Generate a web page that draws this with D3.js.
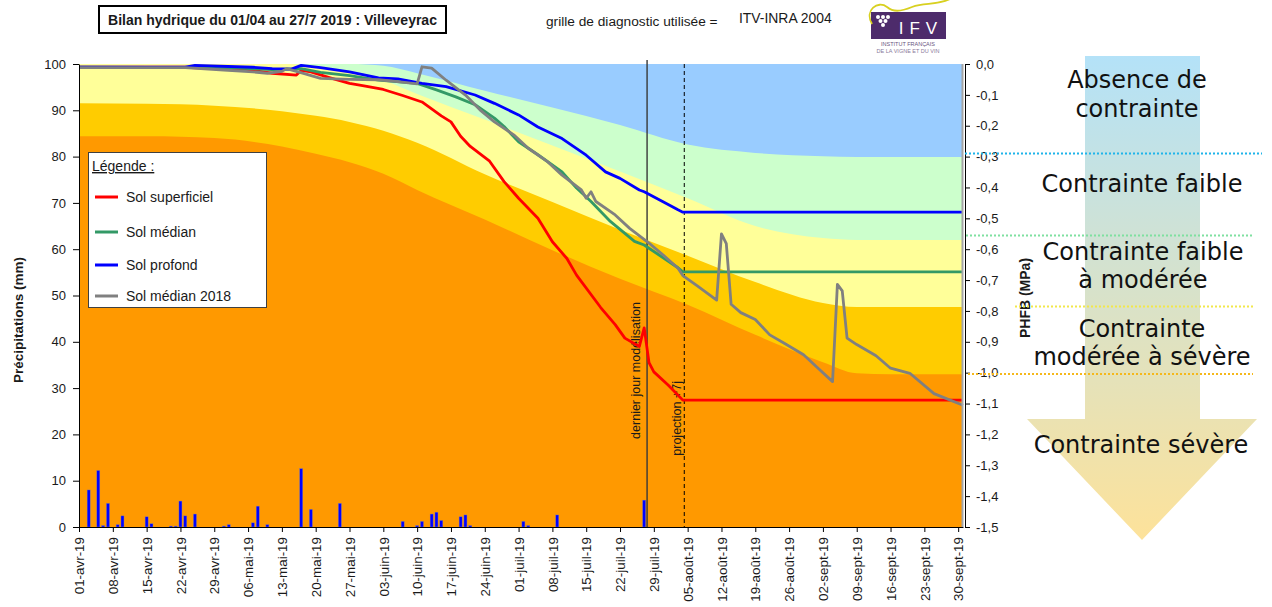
<!DOCTYPE html>
<html>
<head>
<meta charset="utf-8">
<script src="https://cdn.jsdelivr.net/npm/d3@7"></script>
<style>
  body { margin: 0; background: #fff; }
  text { font-family: "Liberation Sans", Arial, sans-serif; fill: #1a1a1a; }
</style>
</head>
<body>
<svg id="chart" width="1272" height="607"></svg>
<script>
// jours comptés depuis le 01/04/2019
var debut = new Date(2019, 3, 1);
var moisAbr = ['janv', 'févr', 'mars', 'avr', 'mai', 'juin', 'juil', 'août', 'sept', 'oct', 'nov', 'déc'];

// précipitations journalières (mm)
var pluieJours = [2, 4, 5, 6, 8, 9, 14, 15, 19, 20, 21, 22, 24, 30, 31, 36, 37, 39, 46, 48, 54, 67, 70, 71, 73, 74, 75, 79, 80, 81, 92, 93, 99, 117];
var pluieMm = [8.0, 12.2, 0.3, 5.1, 0.5, 2.4, 2.2, 0.7, 0.2, 0.2, 5.6, 2.4, 2.8, 0.2, 0.5, 0.9, 4.5, 0.5, 12.6, 3.8, 5.1, 1.2, 0.3, 1.2, 2.8, 3.2, 1.4, 2.2, 2.6, 0.3, 1.2, 0.3, 2.6, 5.8];

// limites des classes de contrainte (grille ITV-INRA 2004)
var joursGrille = [0, 14, 28, 42, 49, 56, 63, 70, 84, 98, 112, 126, 140, 154, 161, 168, 183];
var limiteBleu  = [100, 100, 100, 100, 100, 100, 99.6, 98.0, 94.2, 90.6, 86.8, 82.6, 80.8, 80.1, 79.9, 79.9, 79.9];
var limiteVert  = [100, 100, 100, 100, 99.6, 98.3, 96.5, 93.5, 88.0, 82.4, 76.8, 71.0, 65.0, 62.4, 62.0, 62.0, 62.0];
var limiteJaune = [91.5, 91.4, 91.0, 89.8, 88.8, 87.5, 85.6, 83.0, 76.2, 70.2, 64.2, 58.6, 52.9, 48.4, 47.5, 47.5, 47.5];
var limiteOr    = [84.4, 84.4, 84.0, 82.2, 80.6, 78.8, 76.3, 72.8, 66.4, 59.8, 53.6, 48.0, 41.5, 35.6, 33.2, 33.0, 33.0];

// bilans hydriques [jour, %]
var solSuperficiel = [[0, 99.3], [22, 99.3], [28, 99.0], [36, 98.6], [40, 98.0], [45, 97.6], [46, 98.6], [48, 98.3], [52, 97.0], [56, 95.8], [59, 95.3], [63, 94.5], [67, 93.2], [71, 91.8], [75, 88.8], [77, 87.5], [79, 84.4], [81, 82.2], [85, 79.0], [88, 74.6], [91, 71.0], [95, 66.7], [98, 61.6], [101, 58.0], [103, 54.4], [108, 47.4], [111, 43.7], [113, 40.8], [116, 39.0], [117, 43.0], [118, 35.5], [119, 33.5], [122, 30.6], [125, 27.4], [183, 27.4]];
var solMedian = [[0, 99.3], [30, 99.2], [40, 98.8], [46, 99.0], [50, 98.2], [56, 97.5], [62, 96.5], [70, 95.8], [74, 94.4], [78, 92.9], [82, 91.2], [86, 88.3], [88, 86.5], [91, 83.2], [95, 80.4], [100, 76.7], [103, 73.2], [106, 70.3], [110, 66.0], [115, 61.7], [117, 60.9], [124, 56.0], [125, 55.1], [183, 55.1]];
var solProfond = [[0, 99.3], [22, 99.3], [24, 99.7], [36, 99.3], [40, 99.0], [44, 98.9], [46, 99.7], [50, 99.2], [56, 98.3], [62, 97.0], [66, 96.8], [71, 95.8], [76, 95.1], [82, 93.3], [86, 91.5], [91, 89.0], [95, 86.4], [100, 83.9], [105, 80.3], [109, 76.7], [112, 75.3], [116, 72.8], [117, 72.4], [121, 70.2], [124, 68.5], [125, 68.0], [183, 68.0]];
var solMedian2018 = [[0, 99.2], [22, 99.2], [30, 98.7], [36, 98.3], [39, 98.0], [42, 98.4], [43, 99.0], [47, 97.8], [50, 96.9], [56, 96.7], [62, 96.6], [66, 96.2], [70, 95.7], [71, 99.4], [73, 99.1], [76, 96.5], [80, 93.3], [83, 90.1], [86, 87.5], [90, 84.7], [93, 81.8], [97, 78.9], [100, 76.0], [104, 72.8], [105, 71.0], [106, 72.4], [107, 70.3], [111, 67.4], [114, 64.5], [118, 61.3], [121, 58.7], [124, 55.9], [125, 54.3], [128, 52.1], [132, 49.0], [133, 63.3], [134, 61.2], [135, 48.1], [137, 46.3], [140, 44.8], [143, 41.5], [146, 39.7], [150, 37.2], [153, 34.3], [156, 31.4], [157, 52.4], [158, 51.0], [159, 40.8], [161, 39.4], [165, 37.0], [168, 34.3], [172, 33.2], [177, 28.8], [183, 26.3]];

var dernierJour = 117.6;   // dernier jour modélisation
var jourProjection = 125.3; // projection +7j

var series = [
  { nom: 'Sol superficiel', data: solSuperficiel, couleur: '#ff0000' },
  { nom: 'Sol médian', data: solMedian, couleur: '#339966' },
  { nom: 'Sol profond', data: solProfond, couleur: '#0000ff' },
  { nom: 'Sol médian 2018', data: solMedian2018, couleur: '#808080' }
];

var classes = [
  { lignes: ['Absence de', 'contrainte'], y: [88, 117], cx: 1137 },
  { lignes: ['Contrainte faible'], y: [192], cx: 1142 },
  { lignes: ['Contrainte faible', 'à modérée'], y: [260, 288], cx: 1143 },
  { lignes: ['Contrainte', 'modérée à sévère'], y: [337, 365], cx: 1142 },
  { lignes: ['Contrainte sévère'], y: [453], cx: 1141 }
];

function jour(j) { return new Date(debut.getTime() + j * 864e5); }

var svg = d3.select('#chart');

var x = d3.scaleTime().domain([jour(0), jour(183)]).range([79, 963]);
var y = d3.scaleLinear().domain([0, 100]).range([527, 64]);
var y2 = d3.scaleLinear().domain([-1.5, 0]).range([527, 64]);

// fond : zones de contrainte
svg.append('rect')
  .attr('x', 79).attr('y', 64)
  .attr('width', 884).attr('height', 463)
  .attr('fill', '#99ccff');

var zones = [
  { lim: limiteBleu, couleur: '#ccffcc' },
  { lim: limiteVert, couleur: '#ffff99' },
  { lim: limiteJaune, couleur: '#ffcc00' },
  { lim: limiteOr, couleur: '#ff9900' }
];

zones.forEach(function(z) {
  var aire = d3.area()
    .x(function(d, i) { return x(jour(joursGrille[i])); })
    .y0(y(0))
    .y1(function(d) { return y(d); })
    .curve(d3.curveMonotoneX);
  svg.append('path')
    .datum(z.lim)
    .attr('d', aire)
    .attr('fill', z.couleur);
});

// précipitations
svg.append('g').selectAll('rect')
  .data(pluieJours)
  .enter().append('rect')
    .attr('x', function(d) { return x(jour(d)) - 1.5; })
    .attr('y', function(d, i) { return y(pluieMm[i]); })
    .attr('width', 3)
    .attr('height', function(d, i) { return y(0) - y(pluieMm[i]); })
    .attr('fill', '#0000ff')
    .attr('stroke', '#7a7ab0')
    .attr('stroke-width', 0.4);

// repères verticaux
svg.append('line')
  .attr('x1', x(jour(dernierJour))).attr('x2', x(jour(dernierJour)))
  .attr('y1', 60).attr('y2', 527)
  .attr('stroke', '#383838').attr('stroke-width', 1.4);

svg.append('line')
  .attr('x1', x(jour(jourProjection))).attr('x2', x(jour(jourProjection)))
  .attr('y1', 64).attr('y2', 527)
  .attr('stroke', '#000').attr('stroke-width', 1)
  .attr('stroke-dasharray', '4,3');

svg.append('text')
  .attr('transform', 'translate(' + (x(jour(dernierJour)) - 7) + ',302) rotate(-90)')
  .attr('text-anchor', 'end')
  .style('font-size', '12.5px')
  .text('dernier jour modélisation');

svg.append('text')
  .attr('transform', 'translate(' + (x(jour(jourProjection)) - 3.5) + ',381) rotate(-90)')
  .attr('text-anchor', 'end')
  .style('font-size', '12.5px')
  .text('projection +7j');

// courbes
var ligne = d3.line()
  .x(function(d) { return x(jour(d[0])); })
  .y(function(d) { return y(d[1]); });

series.forEach(function(s) {
  svg.append('path')
    .datum(s.data)
    .attr('d', ligne)
    .attr('fill', 'none')
    .attr('stroke', s.couleur)
    .attr('stroke-width', 2.8)
    .attr('stroke-linejoin', 'round');
});

// bord droit de la zone de tracé
svg.append('line')
  .attr('x1', 962.5).attr('x2', 962.5)
  .attr('y1', 64).attr('y2', 527)
  .attr('stroke', '#a6a6a6').attr('stroke-width', 2);

// axes
var axeG = svg.append('g')
  .attr('transform', 'translate(79,0)')
  .call(d3.axisLeft(y).tickValues(d3.range(0, 101, 10)).tickSize(6).tickSizeOuter(0).tickPadding(7));
axeG.selectAll('text').style('font-size', '13px');

var axeD = svg.append('g')
  .attr('transform', 'translate(965,0)')
  .call(d3.axisRight(y2)
    .tickValues(d3.range(0, 16).map(function(i) { return -i / 10; }))
    .tickFormat(function(d) { return d.toFixed(1).replace('.', ','); })
    .tickSize(5).tickSizeOuter(0).tickPadding(6));
axeD.selectAll('text').style('font-size', '13px');

var ticksX = d3.range(0, 183, 7).map(jour);
var axeX = svg.append('g')
  .attr('transform', 'translate(0,527)')
  .call(d3.axisBottom(x)
    .tickValues(ticksX)
    .tickFormat(function(d) { return d3.timeFormat('%d')(d) + '-' + moisAbr[d.getMonth()] + '-19'; })
    .tickSize(5).tickSizeOuter(0));
axeX.selectAll('text')
  .attr('transform', 'rotate(-90)')
  .attr('x', -10).attr('y', 0)
  .attr('dy', '0.35em')
  .style('text-anchor', 'end')
  .style('font-size', '13.4px');

svg.selectAll('.domain, .tick line').attr('stroke', '#000');
svg.selectAll('.tick text').attr('fill', '#1a1a1a');

svg.append('text')
  .attr('transform', 'translate(23,320) rotate(-90)')
  .attr('text-anchor', 'middle')
  .style('font-size', '13.5px').style('font-weight', 'bold')
  .text('Précipitations (mm)');

svg.append('text')
  .attr('transform', 'translate(1030,298) rotate(-90)')
  .attr('text-anchor', 'middle')
  .style('font-size', '14px').style('font-weight', 'bold')
  .text('PHFB (MPa)');

// légende
var leg = svg.append('g');
leg.append('rect')
  .attr('x', 88.5).attr('y', 152.5)
  .attr('width', 178).attr('height', 155)
  .attr('fill', '#fff').attr('stroke', '#404040');
leg.append('text')
  .attr('x', 92).attr('y', 171)
  .style('font-size', '14px').style('text-decoration', 'underline')
  .text('Légende :');
var legY = [197, 232, 265, 296];
series.forEach(function(s, i) {
  leg.append('line')
    .attr('x1', 95).attr('x2', 118)
    .attr('y1', legY[i]).attr('y2', legY[i])
    .attr('stroke', s.couleur).attr('stroke-width', 3);
  leg.append('text')
    .attr('x', 126).attr('y', legY[i])
    .attr('dy', '0.35em')
    .style('font-size', '14px')
    .text(s.nom);
});

// titre
svg.append('rect')
  .attr('x', 99).attr('y', 6)
  .attr('width', 347).attr('height', 27)
  .attr('fill', '#fff').attr('stroke', '#000').attr('stroke-width', 2);
svg.append('text')
  .attr('x', 272.5).attr('y', 24.5)
  .attr('text-anchor', 'middle')
  .style('font-size', '14px').style('font-weight', 'bold')
  .text('Bilan hydrique du 01/04 au 27/7 2019 : Villeveyrac');

svg.append('text')
  .attr('x', 546).attr('y', 26)
  .style('font-size', '13.7px')
  .text('grille de diagnostic utilisée =');
svg.append('text')
  .attr('x', 739).attr('y', 23)
  .style('font-size', '13.9px')
  .text('ITV-INRA 2004');

// logo IFV (simplifié)
var logo = svg.append('g');
logo.append('rect')
  .attr('x', 871).attr('y', 12)
  .attr('width', 75).attr('height', 27)
  .attr('fill', '#4d2b6b');
logo.append('path')
  .attr('d', 'M872,24 C864,10 878,0 887,7 C893,12 900,12 912,7 C925,2 935,6 950,-1')
  .attr('fill', 'none').attr('stroke', '#d8d020').attr('stroke-width', 1.8);
[[878, 17], [883, 17], [888, 17], [880.5, 21], [885.5, 21], [883, 25]].forEach(function(p) {
  logo.append('circle').attr('cx', p[0]).attr('cy', p[1]).attr('r', 2).attr('fill', '#fff');
});
logo.append('text')
  .attr('x', 921).attr('y', 34)
  .attr('text-anchor', 'middle')
  .style('font-size', '17px').style('letter-spacing', '6px')
  .style('fill', '#fff')
  .text('IFV');
logo.append('text')
  .attr('x', 908).attr('y', 46)
  .attr('text-anchor', 'middle')
  .style('font-size', '5.5px').style('fill', '#6a5580')
  .text('INSTITUT FRANÇAIS');
logo.append('text')
  .attr('x', 908).attr('y', 53)
  .attr('text-anchor', 'middle')
  .style('font-size', '5.5px').style('fill', '#8a7a9a')
  .text('DE LA VIGNE ET DU VIN');

// flèche des classes de contrainte
var defs = svg.append('defs');
var grad = defs.append('linearGradient')
  .attr('id', 'degrade')
  .attr('gradientUnits', 'userSpaceOnUse')
  .attr('x1', 0).attr('y1', 56).attr('x2', 0).attr('y2', 540);
grad.append('stop').attr('offset', 0).attr('stop-color', '#b4e2f8');
grad.append('stop').attr('offset', 1).attr('stop-color', '#fde29a');

svg.append('path')
  .attr('d', 'M1085,56 L1200,56 L1200,419 L1257,419 L1142,540 L1027,419 L1085,419 Z')
  .attr('fill', 'url(#degrade)');

var pointilles = [
  { y: 153.5, x1: 965, x2: 1262, c: '#1eb4ea' },
  { y: 235.5, x1: 966, x2: 1253, c: '#7fe0a0' },
  { y: 306.5, x1: 1015, x2: 1253, c: '#f2e84a' },
  { y: 374, x1: 968, x2: 1253, c: '#f5b81c' }
];
pointilles.forEach(function(p) {
  svg.append('line')
    .attr('x1', p.x1).attr('x2', p.x2)
    .attr('y1', p.y).attr('y2', p.y)
    .attr('stroke', p.c).attr('stroke-width', 2)
    .attr('stroke-dasharray', '2,2');
});

classes.forEach(function(c) {
  c.lignes.forEach(function(l, i) {
    svg.append('text')
      .attr('x', c.cx).attr('y', c.y[i])
      .attr('text-anchor', 'middle')
      .style('font-family', '"DejaVu Sans", Verdana, sans-serif')
      .style('font-size', '24px')
      .style('fill', '#111')
      .text(l);
  });
});
</script>
</body>
</html>
